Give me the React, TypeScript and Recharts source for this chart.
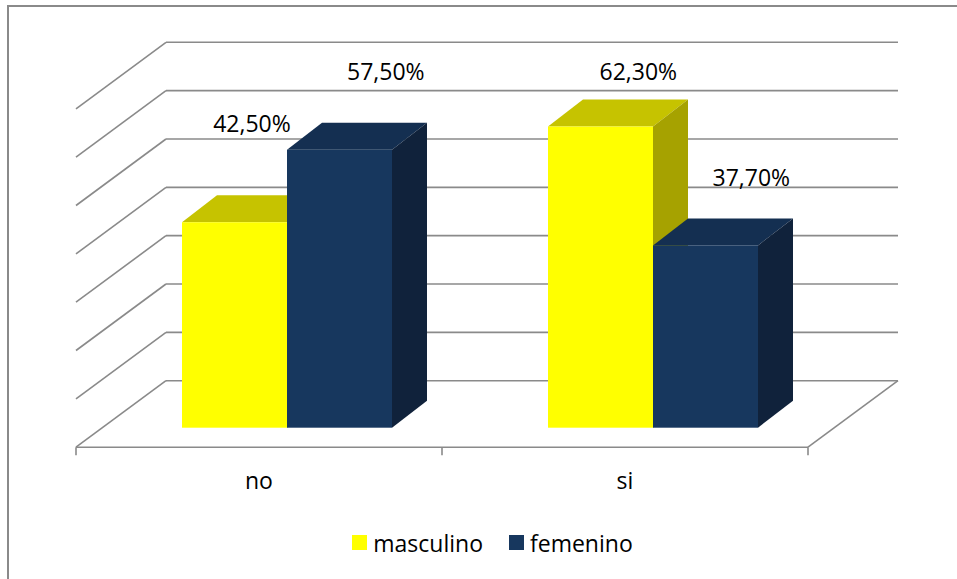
import { BarChart, Bar, XAxis, YAxis, CartesianGrid, Legend, LabelList } from "recharts";

const categories = ["no", "si"];
const masculino = [42.5, 62.3];
const femenino = [57.5, 37.7];
const seriesOrder = ["masculino", "femenino"];
const yTicks = [0, 10, 20, 30, 40, 50, 60, 70];

const data = categories.map((name, i) => ({ name, masculino: masculino[i], femenino: femenino[i] }));

const W = 957;
const H = 579;
const AXIS_H = 60;
const MARGIN = { top: 89.3, right: 121, bottom: 91.3, left: 104 };
const PLOT_BOTTOM = H - MARGIN.bottom - AXIS_H;
const FONT = "'Open Sans', sans-serif";
const GRID = "#8a8a8a";

// oblique "3D" offsets measured from the plane the bar fronts sit in
const BACK = { dx: 62, dy: -47 };
const FRONT = { dx: -28, dy: 19.5 };
const DEPTH = { dx: 35, dy: -27 };

const COLORS = {
  masculino: { front: "#FFFF00", top: "#C6C300", side: "#A6A200" },
  femenino: { front: "#17375E", top: "#142F51", side: "#10223B" },
};

// excel puts the 3d data labels in odd places, nudge from front-top centre
const labelNudge: Record<string, [number, number][]> = {
  masculino: [[17.5, -90], [37.8, -46.6]],
  femenino: [[46.3, -69.3], [45.8, -59.8]],
};

const fmt = (v: number) => v.toFixed(2).replace(".", ",") + "%";

const bar3D = (c: { front: string; top: string; side: string }) => (props: any) => {
  const { x, y, width, height } = props;
  const { dx, dy } = DEPTH;
  return (
    <g>
      <polygon points={`${x},${y} ${x + dx},${y + dy} ${x + width + dx},${y + dy} ${x + width},${y}`} fill={c.top} />
      <polygon
        points={`${x + width},${y} ${x + width + dx},${y + dy} ${x + width + dx},${y + height + dy} ${x + width},${y + height}`}
        fill={c.side}
      />
      <rect x={x} y={y} width={width} height={height} fill={c.front} />
    </g>
  );
};

const renderGridLine = (p: any) => {
  const { x1, x2, y1 } = p;
  const by = y1 + BACK.dy;
  const fy = y1 + FRONT.dy;
  const isFloor = Math.abs(y1 - PLOT_BOTTOM) < 1;
  return (
    <g key={`g-${y1}`} stroke={GRID} strokeWidth={1.6} fill="none">
      <line x1={x1 + BACK.dx} y1={by} x2={x2 + BACK.dx} y2={by} />
      <line x1={x1 + FRONT.dx} y1={fy} x2={x1 + BACK.dx} y2={by} />
      {isFloor && (
        <>
          <line x1={x1 + FRONT.dx} y1={fy} x2={x2 + FRONT.dx} y2={fy} />
          <line x1={x2 + FRONT.dx} y1={fy} x2={x2 + BACK.dx} y2={by} />
          {[x1, (x1 + x2) / 2, x2].map((tx) => (
            <line key={tx} x1={tx + FRONT.dx} y1={fy} x2={tx + FRONT.dx} y2={fy + 8} />
          ))}
        </>
      )}
    </g>
  );
};

const renderTick = (p: any) => (
  <text x={p.x + FRONT.dx} y={p.y + 53} textAnchor="middle" fontFamily={FONT} fontSize={23} fill="#000">
    {p.payload.value}
  </text>
);

const labelFor = (key: string) => (p: any) => {
  const { x, y, width, value, index } = p;
  const [nx, ny] = labelNudge[key][index];
  return (
    <text x={x + width / 2 + nx} y={y + ny} textAnchor="middle" fontFamily={FONT} fontSize={23} fill="#000">
      {fmt(value)}
    </text>
  );
};

const renderLegend = ({ payload }: any) => {
  const items = [...payload].sort((a: any, b: any) => seriesOrder.indexOf(a.value) - seriesOrder.indexOf(b.value));
  return (
    <div
      style={{
        display: "flex",
        justifyContent: "center",
        alignItems: "center",
        gap: 26,
        paddingLeft: 28,
        height: 32,
        fontFamily: FONT,
        fontSize: 23,
        color: "#000",
      }}
    >
      {items.map((e: any) => (
        <div key={e.value} style={{ display: "flex", alignItems: "center" }}>
          <span style={{ width: 15, height: 15, background: e.color, marginRight: 6, display: "inline-block" }} />
          <span>{e.value}</span>
        </div>
      ))}
    </div>
  );
};

export default function App() {
  return (
    <div style={{ position: "absolute", left: 0, top: 0, width: W, height: H, background: "#fff", overflow: "hidden" }}>
      <div
        style={{
          position: "absolute",
          left: 7,
          top: 5,
          width: W - 7,
          height: H - 5,
          borderLeft: `2px solid ${GRID}`,
          borderTop: `2px solid ${GRID}`,
          boxSizing: "border-box",
        }}
      />
      <BarChart width={W} height={H} data={data} margin={MARGIN} barGap={0} barSize={105}>
        <CartesianGrid horizontal={renderGridLine} vertical={false} />
        <XAxis dataKey="name" height={AXIS_H} axisLine={false} tickLine={false} tick={renderTick} interval={0} />
        <YAxis hide domain={[0, 70]} ticks={yTicks} />
        <Legend
          layout="horizontal"
          verticalAlign="middle"
          align="center"
          content={renderLegend}
          wrapperStyle={{ top: 526.5, left: 0, width: W }}
        />
        <Bar dataKey="masculino" name="masculino" fill={COLORS.masculino.front} shape={bar3D(COLORS.masculino)} isAnimationActive={false}>
          <LabelList dataKey="masculino" content={labelFor("masculino")} />
        </Bar>
        <Bar dataKey="femenino" name="femenino" fill={COLORS.femenino.front} shape={bar3D(COLORS.femenino)} isAnimationActive={false}>
          <LabelList dataKey="femenino" content={labelFor("femenino")} />
        </Bar>
      </BarChart>
    </div>
  );
}
